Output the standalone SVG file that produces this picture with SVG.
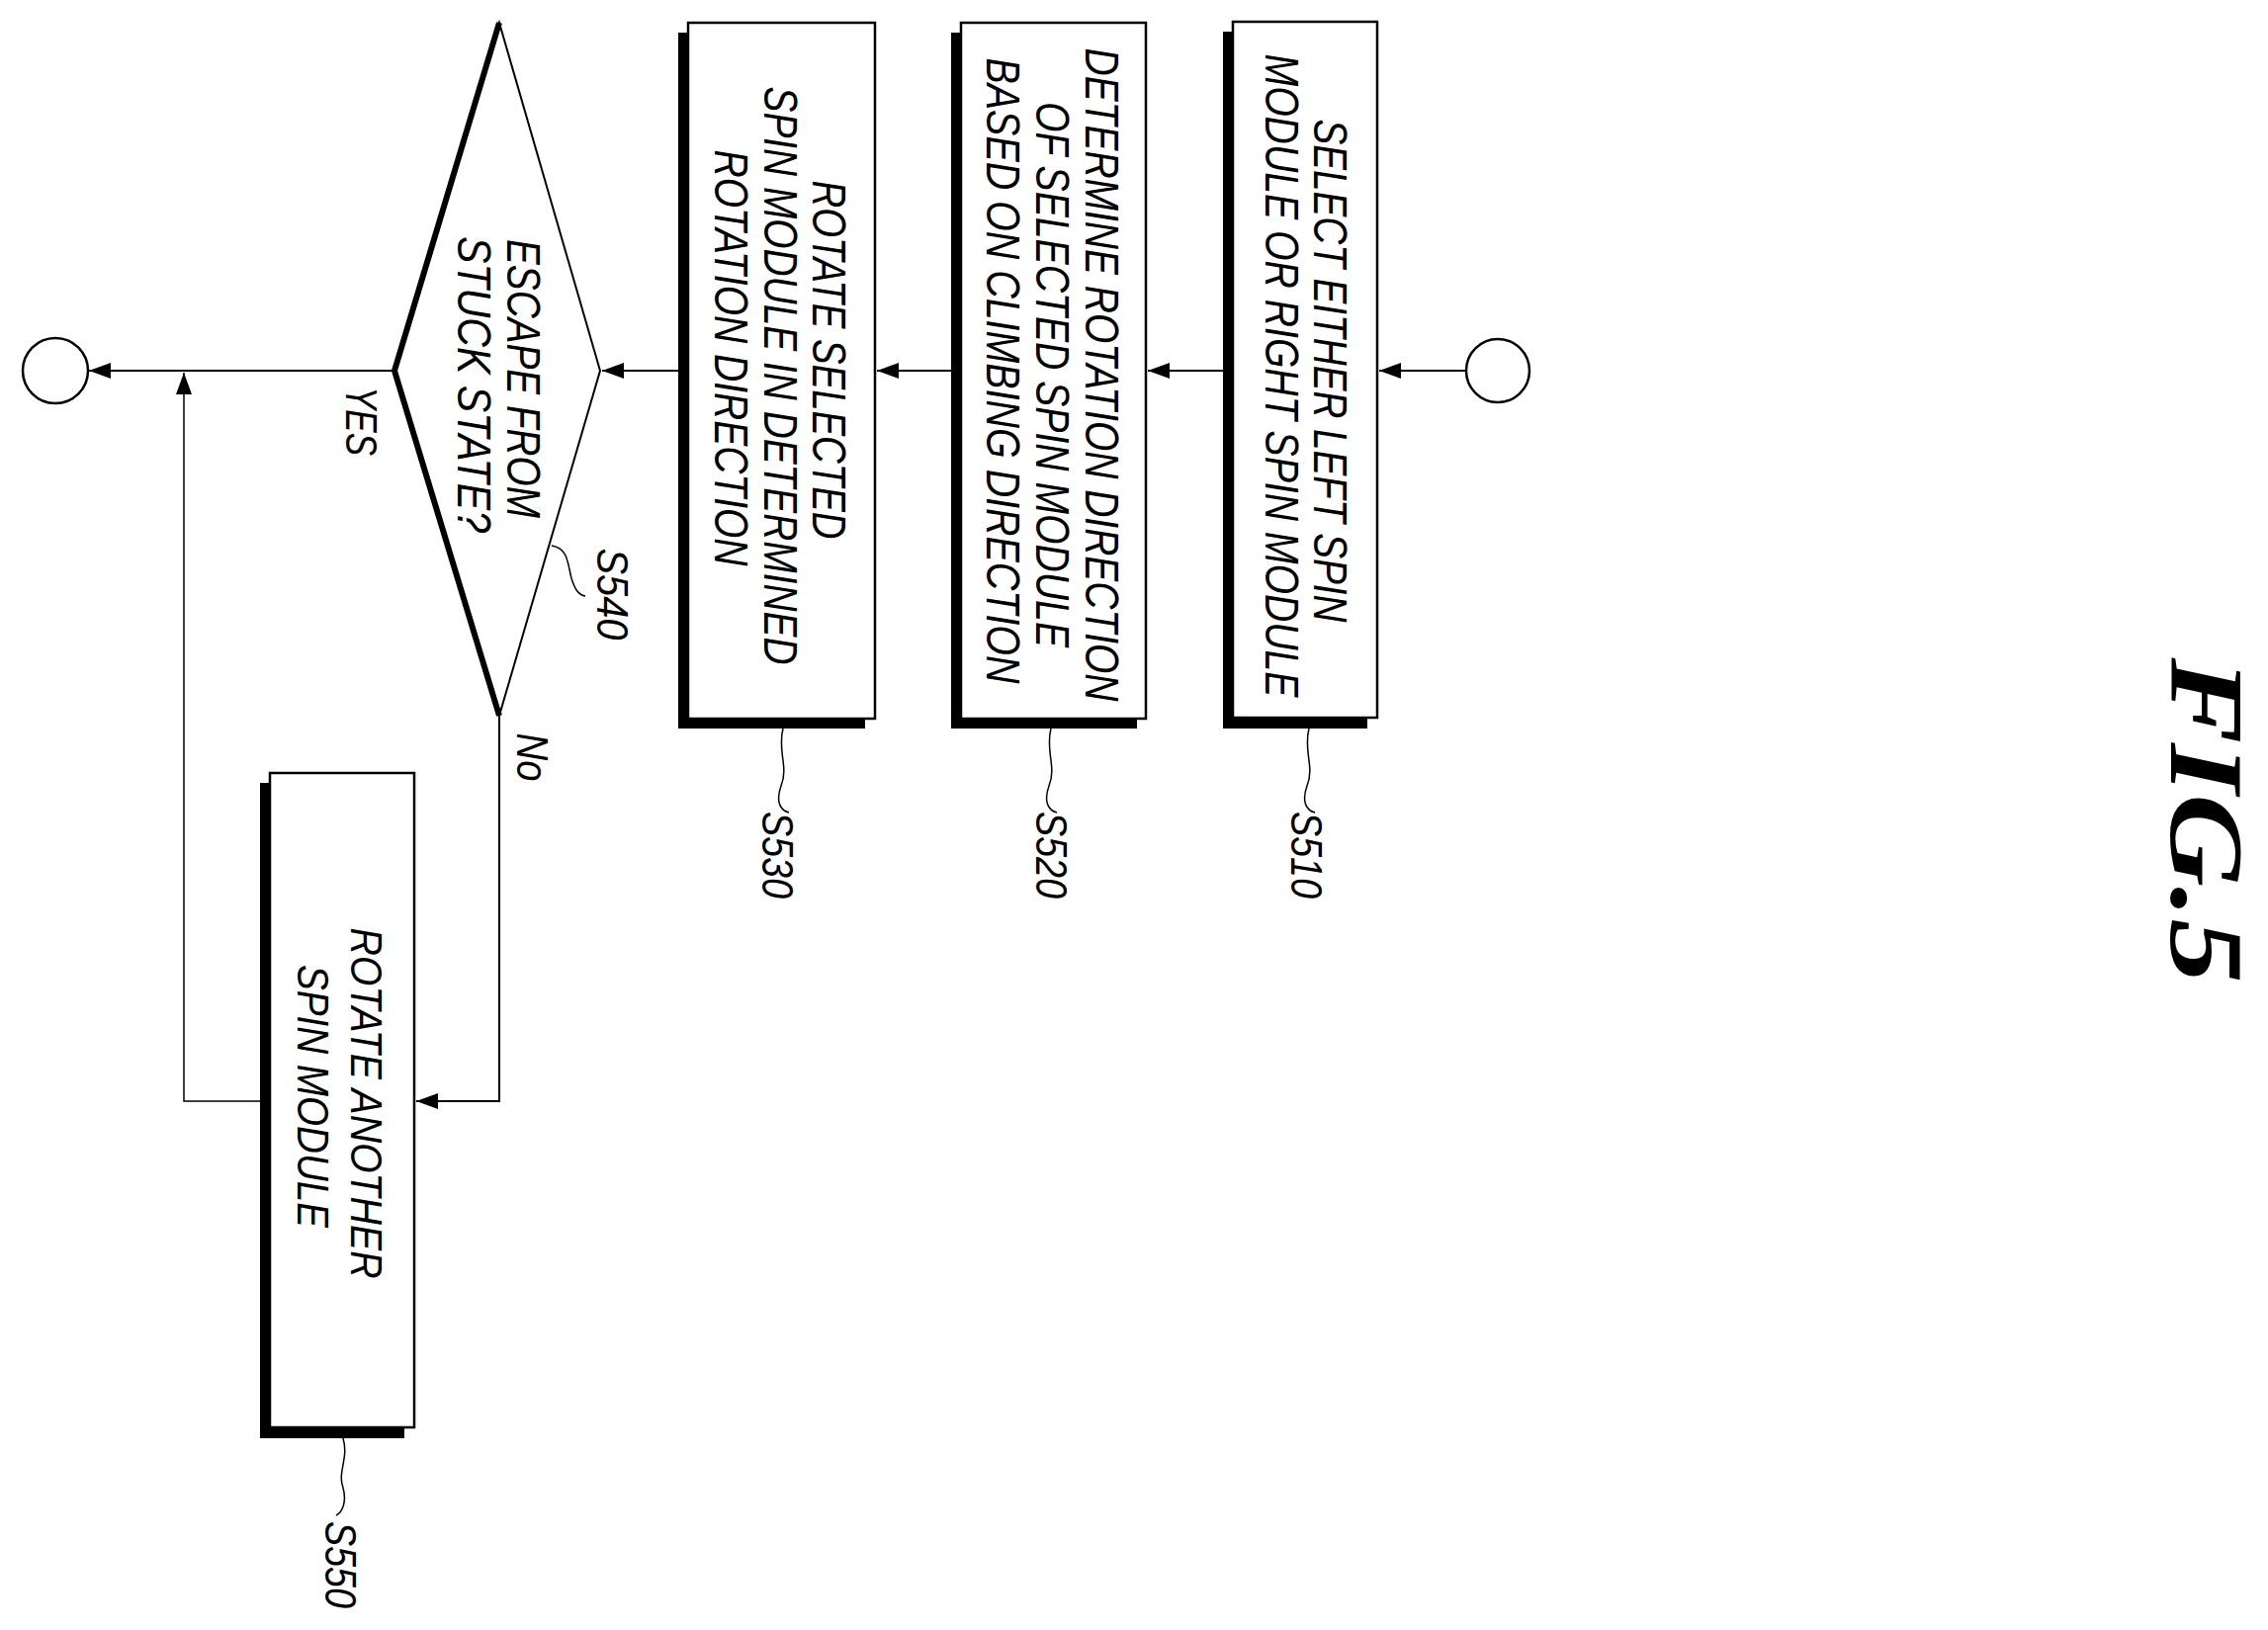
<svg xmlns="http://www.w3.org/2000/svg" width="2294" height="1649" viewBox="0 0 2294 1649">
<style>
.t{font-family:"Liberation Sans",Arial,sans-serif;font-style:italic;font-size:48px;fill:#000}
.s{font-family:"Liberation Sans",Arial,sans-serif;font-style:italic;font-size:44px;fill:#000}
.box{fill:#fff;stroke:#000;stroke-width:2.5}
.sh{fill:#000}
.c{fill:none;stroke:#000;stroke-width:2}
.ld{fill:none;stroke:#000;stroke-width:1.5}
</style>
<defs>
<marker id="a" markerUnits="userSpaceOnUse" markerWidth="24" markerHeight="16" refX="22" refY="8" orient="auto">
<path d="M0,0 L22,8 L0,16 Z" fill="#000"/>
</marker>
</defs>
<text style="font-family:'Liberation Serif',serif;font-size:106px;font-style:italic;font-weight:bold" transform="translate(2196,830) rotate(90)" text-anchor="middle" textLength="329" lengthAdjust="spacingAndGlyphs">FIG.5</text>
<g id="start"><circle cx="1515" cy="375" r="32" fill="#fff" stroke="#000" stroke-width="2.5"/></g>
<g id="end"><circle cx="56" cy="375" r="33" fill="#fff" stroke="#000" stroke-width="2.5"/></g>
<g id="S510">
<rect class="sh" x="1237" y="32" width="146" height="705"/>
<rect class="box" x="1247" y="22" width="146" height="704"/>
<text class="t" transform="translate(1329,375) rotate(90)" text-anchor="middle" textLength="509" lengthAdjust="spacingAndGlyphs">SELECT EITHER LEFT SPIN</text>
<text class="t" transform="translate(1280,380) rotate(90)" text-anchor="middle" textLength="651" lengthAdjust="spacingAndGlyphs">MODULE OR RIGHT SPIN MODULE</text>
<path class="ld" d="M1324,737 C1318,760 1330,775 1322,795 C1316,812 1322,820 1330,822"/>
<text class="s" transform="translate(1306,865) rotate(90)" text-anchor="middle" textLength="88" lengthAdjust="spacingAndGlyphs">S510</text>
</g>
<g id="S520">
<rect class="sh" x="962" y="33" width="188" height="704"/>
<rect class="box" x="972" y="23" width="187" height="704"/>
<text class="t" transform="translate(1098,379) rotate(90)" text-anchor="middle" textLength="661" lengthAdjust="spacingAndGlyphs">DETERMINE ROTATION DIRECTION</text>
<text class="t" transform="translate(1048,379) rotate(90)" text-anchor="middle" textLength="552" lengthAdjust="spacingAndGlyphs">OF SELECTED SPIN MODULE</text>
<text class="t" transform="translate(998,375) rotate(90)" text-anchor="middle" textLength="633" lengthAdjust="spacingAndGlyphs">BASED ON CLIMBING DIRECTION</text>
<path class="ld" d="M1063,737 C1057,760 1069,775 1061,795 C1055,812 1061,820 1069,822"/>
<text class="s" transform="translate(1048,865) rotate(90)" text-anchor="middle" textLength="88" lengthAdjust="spacingAndGlyphs">S520</text>
</g>
<g id="S530">
<rect class="sh" x="686" y="33" width="189" height="704"/>
<rect class="box" x="696" y="23" width="189" height="704"/>
<text class="t" transform="translate(822,364) rotate(90)" text-anchor="middle" textLength="363" lengthAdjust="spacingAndGlyphs">ROTATE SELECTED</text>
<text class="t" transform="translate(773,380) rotate(90)" text-anchor="middle" textLength="585" lengthAdjust="spacingAndGlyphs">SPIN MODULE IN DETERMINED</text>
<text class="t" transform="translate(723,362) rotate(90)" text-anchor="middle" textLength="421" lengthAdjust="spacingAndGlyphs">ROTATION DIRECTION</text>
<path class="ld" d="M792,737 C786,760 798,775 790,795 C784,812 790,820 798,822"/>
<text class="s" transform="translate(771,865) rotate(90)" text-anchor="middle" textLength="88" lengthAdjust="spacingAndGlyphs">S530</text>
</g>
<g id="S540">
<polygon points="607,375 505,23 399,375 505,724" fill="#fff" stroke="#000" stroke-width="2"/>
<polyline points="505,23 399,375 505,724" fill="none" stroke="#000" stroke-width="6"/>
<text class="t" transform="translate(513,383) rotate(90)" text-anchor="middle" textLength="282" lengthAdjust="spacingAndGlyphs">ESCAPE FROM</text>
<text class="t" transform="translate(463,389) rotate(90)" text-anchor="middle" textLength="300" lengthAdjust="spacingAndGlyphs">STUCK STATE?</text>
<path class="ld" d="M558,552 C575,555 574,570 578,585 C582,598 586,602 592,603"/>
<text class="s" transform="translate(604,601) rotate(90)" text-anchor="middle" textLength="93" lengthAdjust="spacingAndGlyphs">S540</text>
<text class="s" transform="translate(350,426) rotate(90)" text-anchor="middle" textLength="70" lengthAdjust="spacingAndGlyphs">YES</text>
<text class="s" transform="translate(523,766) rotate(90)" text-anchor="middle" textLength="49" lengthAdjust="spacingAndGlyphs">No</text>
</g>
<g id="S550">
<rect class="sh" x="263" y="792" width="146" height="663"/>
<rect class="box" x="273" y="782" width="146" height="662"/>
<text class="t" style="font-size:44px" transform="translate(355,1116) rotate(90)" text-anchor="middle" textLength="355" lengthAdjust="spacingAndGlyphs">ROTATE ANOTHER</text>
<text class="t" style="font-size:44px" transform="translate(301,1109) rotate(90)" text-anchor="middle" textLength="266" lengthAdjust="spacingAndGlyphs">SPIN MODULE</text>
<path class="ld" d="M347,1455 C353,1475 341,1490 347,1505 C351,1520 346,1530 340,1533"/>
<text class="s" transform="translate(329,1583) rotate(90)" text-anchor="middle" textLength="88" lengthAdjust="spacingAndGlyphs">S550</text>
</g>
<g id="connectors">
<line class="c" x1="1483" y1="375" x2="1395" y2="375" marker-end="url(#a)"/>
<line class="c" x1="1237" y1="375" x2="1161" y2="375" marker-end="url(#a)"/>
<line class="c" x1="962" y1="375" x2="887" y2="375" marker-end="url(#a)"/>
<line class="c" x1="686" y1="375" x2="609" y2="375" marker-end="url(#a)"/>
<line class="c" x1="399" y1="375" x2="90" y2="375" marker-end="url(#a)"/>
<polyline class="c" points="505,724 505,1114 421,1114" marker-end="url(#a)"/>
<polyline class="c" style="stroke-width:1.5" points="263,1114 186,1114 186,377" marker-end="url(#a)"/>
</g>
</svg>
